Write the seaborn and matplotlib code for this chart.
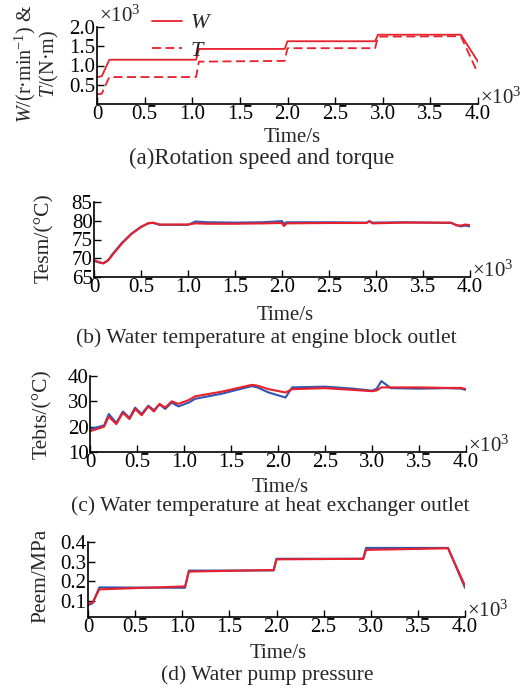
import numpy as np
import pandas as pd
import matplotlib
matplotlib.use("Agg")
import matplotlib.pyplot as plt
import seaborn as sns

# (a) rotation speed W and torque T, x10^3
t_w = [0, 0.05, 0.13, 1.04, 1.07, 1.97, 2.00, 2.92, 2.95, 3.82, 4.00]
w_val = [0.70, 0.72, 1.15, 1.15, 1.43, 1.43, 1.63, 1.63, 1.80, 1.80, 1.10]
t_t = [0, 0.05, 0.13, 1.04, 1.07, 1.97, 2.00, 2.92, 2.95, 3.82, 3.98]
t_val = [0.25, 0.27, 0.70, 0.70, 1.10, 1.12, 1.45, 1.45, 1.75, 1.76, 0.90]

# (b) water temperature at engine block outlet
t_b = [0, 0.05, 0.10, 0.15, 0.20, 0.30, 0.40, 0.50, 0.58, 0.63, 0.70, 0.90, 1.00, 1.08,
       1.20, 1.50, 1.80, 2.00, 2.02, 2.05, 2.50, 2.90, 2.93, 2.96, 3.30, 3.80, 3.85, 3.90, 3.95, 4.00]
tesm_sim = [69.5, 69.0, 68.6, 69.4, 71.0, 74.0, 76.5, 78.3, 79.4, 79.5, 79.0, 79.0, 79.0, 79.3,
            79.2, 79.2, 79.3, 79.4, 78.6, 79.3, 79.4, 79.4, 79.9, 79.3, 79.5, 79.5, 78.8, 78.7, 79.0, 78.8]
tesm_exp = [69.3, 68.9, 68.7, 69.5, 71.2, 74.2, 76.6, 78.4, 79.3, 79.4, 78.9, 78.9, 78.9, 79.8,
            79.6, 79.5, 79.6, 79.9, 79.2, 79.6, 79.6, 79.5, 79.9, 79.5, 79.6, 79.4, 78.9, 78.5, 78.7, 78.5]

# (c) water temperature at heat exchanger outlet
t_c = [0, 0.15, 0.20, 0.28, 0.35, 0.42, 0.48, 0.55, 0.62, 0.68, 0.74, 0.80, 0.87, 0.94,
       1.05, 1.12, 1.40, 1.72, 1.78, 1.90, 2.08, 2.15, 2.50, 2.80, 3.00, 3.05, 3.10, 3.20,
       3.50, 3.80, 3.95, 4.00]
tebts_sim = [18.2, 20.0, 24.0, 21.0, 25.5, 23.0, 27.0, 24.5, 28.0, 26.0, 29.0, 27.5, 30.0, 29.0,
             30.5, 32.0, 33.8, 36.5, 36.2, 34.8, 33.5, 34.8, 35.2, 34.5, 34.0, 34.3, 35.5, 35.5,
             35.5, 35.3, 35.3, 34.8]
tebts_exp = [19.0, 20.5, 25.0, 21.5, 26.0, 23.5, 27.5, 25.0, 28.3, 26.5, 28.8, 27.0, 29.5, 28.0,
             29.5, 31.0, 33.0, 36.0, 35.5, 33.5, 31.5, 35.5, 35.8, 35.0, 34.2, 35.0, 38.0, 35.2,
             35.0, 35.2, 35.0, 34.5]

# (d) water pump pressure
t_d = [0, 0.05, 0.12, 1.03, 1.07, 1.97, 2.00, 2.92, 2.95, 3.82, 4.00]
peem_sim = [0.085, 0.095, 0.160, 0.175, 0.250, 0.258, 0.312, 0.315, 0.360, 0.368, 0.178]
peem_exp = [0.080, 0.090, 0.170, 0.168, 0.255, 0.256, 0.315, 0.315, 0.370, 0.370, 0.168]

sns.set_style("ticks")
plt.rcParams["font.family"] = ["Liberation Serif", "DejaVu Serif"]
plt.rcParams["mathtext.fontset"] = "custom"
plt.rcParams["mathtext.rm"] = "Liberation Serif"
plt.rcParams["mathtext.it"] = "Liberation Serif:italic"
plt.rcParams["font.size"] = 15

RED = "#e8202c"
BLUE = "#3355b0"
W, H = 524, 690

fig = plt.figure(figsize=(5.24, 6.9), dpi=100)


def add_ax(left, right, top, bottom):
    return fig.add_axes([left / W, 1 - bottom / H, (right - left) / W, (bottom - top) / H])


def style(ax, ylim, yticks, ytl):
    ax.set_xlim(0, 4.0)
    ax.set_ylim(*ylim)
    ax.set_xticks([0, 0.5, 1.0, 1.5, 2.0, 2.5, 3.0, 3.5, 4.0])
    ax.set_xticklabels(["0", "0.5", "1.0", "1.5", "2.0", "2.5", "3.0", "3.5", "4.0"])
    ax.set_yticks(yticks)
    ax.set_yticklabels(ytl)
    ax.tick_params(direction="in", length=5, width=1, labelsize=15, pad=1, colors="black")
    for s in ["top", "right"]:
        ax.spines[s].set_visible(False)
    for s in ["left", "bottom"]:
        ax.spines[s].set_linewidth(1.2)
        ax.spines[s].set_color("black")
    ax.set_xlabel("")
    ax.set_ylabel("")
    ax.text(1.006, 0.0, r"$\times10^3$", transform=ax.transAxes, ha="left", va="baseline", fontsize=15)


# (a)
ax1 = add_ax(97, 478, 27, 104)
sns.lineplot(x=t_w, y=w_val, ax=ax1, color=RED, lw=1.3, label=r"$\it{W}$")
sns.lineplot(x=t_t, y=t_val, ax=ax1, color=RED, lw=1.3, label=r"$\it{T}$")
ax1.lines[1].set_dashes([5, 2.5])
style(ax1, (0, 2.0), [0.5, 1.0, 1.5, 2.0], ["0.5", "1.0", "1.5", "2.0"])
ax1.text(0.005, 1.0, r"$\times10^3$", transform=ax1.transAxes, ha="left", va="bottom", fontsize=15)
leg = ax1.legend(loc="upper left", bbox_to_anchor=(0.12, 1.30), frameon=False,
                 handlelength=1.35, labelspacing=0.3, handletextpad=0.4, fontsize=16, borderaxespad=0)
ax1.set_ylabel("$\\it{W}$/(r·min$^{-1}$) &\n$\\it{T}$/(N·m)", fontsize=14.5, linespacing=1.0)
ax1.yaxis.set_label_coords(-0.095, 0.52)

# (b)
ax2 = add_ax(94, 470, 202, 277)
sns.lineplot(x=t_b, y=tesm_exp, ax=ax2, color=BLUE, lw=1.5)
sns.lineplot(x=t_b, y=tesm_sim, ax=ax2, color=RED, lw=1.5)
style(ax2, (65, 85), [65, 70, 75, 80, 85], ["65", "70", "75", "80", "85"])
ax2.set_ylabel("Tesm/(°C)", fontsize=15.5)
ax2.yaxis.set_label_coords(-0.105, 0.52)

# (c)
ax3 = add_ax(90, 466, 376, 452)
sns.lineplot(x=t_c, y=tebts_exp, ax=ax3, color=BLUE, lw=1.5)
sns.lineplot(x=t_c, y=tebts_sim, ax=ax3, color=RED, lw=1.5)
style(ax3, (10, 40), [10, 20, 30, 40], ["10", "20", "30", "40"])
ax3.set_ylabel("Tebts/(°C)", fontsize=15.5)
ax3.yaxis.set_label_coords(-0.10, 0.5)

# (d)
ax4 = add_ax(88, 465, 542, 617)
sns.lineplot(x=t_d, y=peem_exp, ax=ax4, color=BLUE, lw=1.5)
sns.lineplot(x=t_d, y=peem_sim, ax=ax4, color=RED, lw=1.5)
style(ax4, (0.02, 0.4), [0.1, 0.2, 0.3, 0.4], ["0.1", "0.2", "0.3", "0.4"])
ax4.set_ylabel("Peem/MPa", fontsize=15.5)
ax4.yaxis.set_label_coords(-0.10, 0.55)

# x labels and captions
for x_px, y_px, txt, fs in [(292, 138, "Time/s", 15), (262, 158, "(a)Rotation speed and torque", 16.5),
                            (285, 316, "Time/s", 15), (266, 338, "(b) Water temperature at engine block outlet", 15.5),
                            (280, 488, "Time/s", 15), (270, 506, "(c) Water temperature at heat exchanger outlet", 15.5),
                            (278, 653, "Time/s", 15), (267, 675, "(d) Water pump pressure", 15.5)]:
    fig.text(x_px / W, 1 - y_px / H, txt, ha="center", va="center", fontsize=fs)

fig.savefig("out.png", dpi=100)
